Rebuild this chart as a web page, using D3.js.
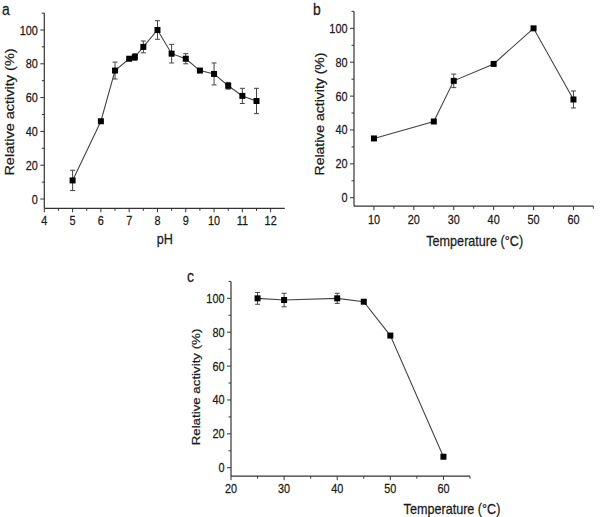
<!DOCTYPE html>
<html><head><meta charset="utf-8">
<script src="https://cdn.jsdelivr.net/npm/d3@7"></script>
<style>body{margin:0;background:#fff}svg{display:block}text{font-family:"Liberation Sans",Arial,sans-serif;fill:#1a1a1a;stroke:#1a1a1a;stroke-width:0.25}</style>
</head><body>
<svg id="c" width="600" height="517"></svg>
<script>
// Panel a: pH
const phX = [5, 6, 6.5, 7, 7.2, 7.5, 8, 8.5, 9, 9.5, 10, 10.5, 11, 11.5];
const phY = [11, 46, 76, 83, 84, 90, 100, 86, 83, 76, 74, 67, 61, 58];
const phErr = [6, 1, 5, 1.5, 2, 3.5, 5.5, 5.5, 3, 1, 6.5, 2, 4.5, 7.5];
const phTicks = [4, 5, 6, 7, 8, 9, 10, 11, 12];
// Panel b: temperature
const tempX = [10, 25, 30, 40, 50, 60];
const tempY = [35, 45, 69, 79, 100, 58];
const tempErr = [1, 1, 4, 1, 1, 5];
const tempTicks = [10, 20, 30, 40, 50, 60];
// Panel c: thermal stability
const stabX = [25, 30, 40, 45, 50, 60];
const stabY = [100, 99, 100, 98, 78, 6.5];
const stabErr = [3.5, 4, 3, 1.5, 1, 1];
const stabTicks = [20, 30, 40, 50, 60];
const yTicks = [0, 20, 40, 60, 80, 100];
const yMinor = [10, 30, 50, 70, 90, 110];

const svg = d3.select("#c");
const SX = 0.87;

function panel(o){
  const g = svg.append("g");
  const x = d3.scaleLinear().domain(o.xd).range(o.xr);
  const y = d3.scaleLinear().domain([o.y0, 110]).range(o.yr);
  const ax = o.xr[0], ay = o.yr[0];
  g.append("line").attr("x1",ax).attr("x2",ax).attr("y1",o.yr[0]).attr("y2",o.yr[1]).attr("stroke","#333").attr("stroke-width",1.2);
  g.append("line").attr("x1",o.xr[0]).attr("x2",o.xr[1]).attr("y1",ay).attr("y2",ay).attr("stroke","#333").attr("stroke-width",1.2);
  yTicks.forEach(v=>{
    g.append("line").attr("x1",ax-4).attr("x2",ax).attr("y1",y(v)).attr("y2",y(v)).attr("stroke","#333");
    g.append("text").attr("transform",`translate(${ax-6.5},${y(v)+4.5}) scale(${SX},1)`).attr("text-anchor","end").attr("font-size",o.tfs).text(v);
  });
  yMinor.forEach(v=>{
    g.append("line").attr("x1",ax-2.5).attr("x2",ax).attr("y1",y(v)).attr("y2",y(v)).attr("stroke","#333");
  });
  o.xt.forEach(v=>{
    g.append("line").attr("x1",x(v)).attr("x2",x(v)).attr("y1",ay).attr("y2",ay+4).attr("stroke","#333");
    g.append("text").attr("transform",`translate(${x(v)},${ay+o.tdy}) scale(${SX},1)`).attr("text-anchor","middle").attr("font-size",o.tfs).text(v);
  });
  o.xm.forEach(v=>{
    g.append("line").attr("x1",x(v)).attr("x2",x(v)).attr("y1",ay).attr("y2",ay+2.5).attr("stroke","#333");
  });
  g.append("text").attr("transform",`translate(${o.xtx},${o.xty}) scale(${SX},1)`).attr("text-anchor","middle").attr("font-size",o.afs).text(o.xlabel);
  g.append("text").attr("transform",`translate(${o.ytx},${o.yty}) rotate(-90) scale(1,${SX})`).attr("text-anchor","middle").attr("font-size",o.yfs).text("Relative activity (%)");
  g.append("text").attr("transform",`translate(${o.lx},${o.ly}) scale(${SX},1)`).attr("font-size",16).text(o.letter);
  const pts = o.xs.map((v,i)=>({x:v,y:o.ys[i],e:o.es[i]}));
  g.append("path").datum(pts).attr("fill","none").attr("stroke","#444").attr("stroke-width",1.1)
    .attr("d",d3.line().x(d=>x(d.x)).y(d=>y(d.y)));
  const eb = g.selectAll(".eb").data(pts.filter(d=>d.e>1.5)).enter().append("g").attr("stroke","#444").attr("stroke-width",1);
  eb.append("line").attr("x1",d=>x(d.x)).attr("x2",d=>x(d.x)).attr("y1",d=>y(d.y-d.e)).attr("y2",d=>y(d.y+d.e));
  eb.append("line").attr("x1",d=>x(d.x)-2.5).attr("x2",d=>x(d.x)+2.5).attr("y1",d=>y(d.y-d.e)).attr("y2",d=>y(d.y-d.e));
  eb.append("line").attr("x1",d=>x(d.x)-2.5).attr("x2",d=>x(d.x)+2.5).attr("y1",d=>y(d.y+d.e)).attr("y2",d=>y(d.y+d.e));
  g.selectAll(".m").data(pts).enter().append("rect").attr("x",d=>x(d.x)-3).attr("y",d=>y(d.y)-3).attr("width",6).attr("height",6).attr("fill","#000");
}

panel({xd:[4,12.5], xr:[44.3,284.8], y0:-5.5, yr:[208.3,13.1], xt:phTicks, xm:d3.range(4.5,12.5,1),
  xs:phX, ys:phY, es:phErr, xlabel:"pH", xtx:164.7, xty:244, ytx:13.5, yty:112, lx:2, ly:15, letter:"a",
  tfs:12.5, afs:14.5, yfs:14.5, tdy:16.5});
panel({xd:[5,65], xr:[354,593.4], y0:-5, yr:[206.2,11.4], xt:tempTicks, xm:[15,25,35,45,55,65],
  xs:tempX, ys:tempY, es:tempErr, xlabel:"Temperature (°C)", xtx:474.7, xty:246, ytx:324, yty:114, lx:313, ly:15, letter:"b",
  tfs:12.5, afs:14.5, yfs:14, tdy:18});
panel({xd:[20,65], xr:[231,470], y0:-5, yr:[476.2,281.4], xt:stabTicks, xm:[25,35,45,55,65],
  xs:stabX, ys:stabY, es:stabErr, xlabel:"Temperature (°C)", xtx:452, xty:514, ytx:200, yty:387, lx:187, ly:282, letter:"c",
  tfs:12.5, afs:14.5, yfs:13.3, tdy:17});
</script>
</body></html>
